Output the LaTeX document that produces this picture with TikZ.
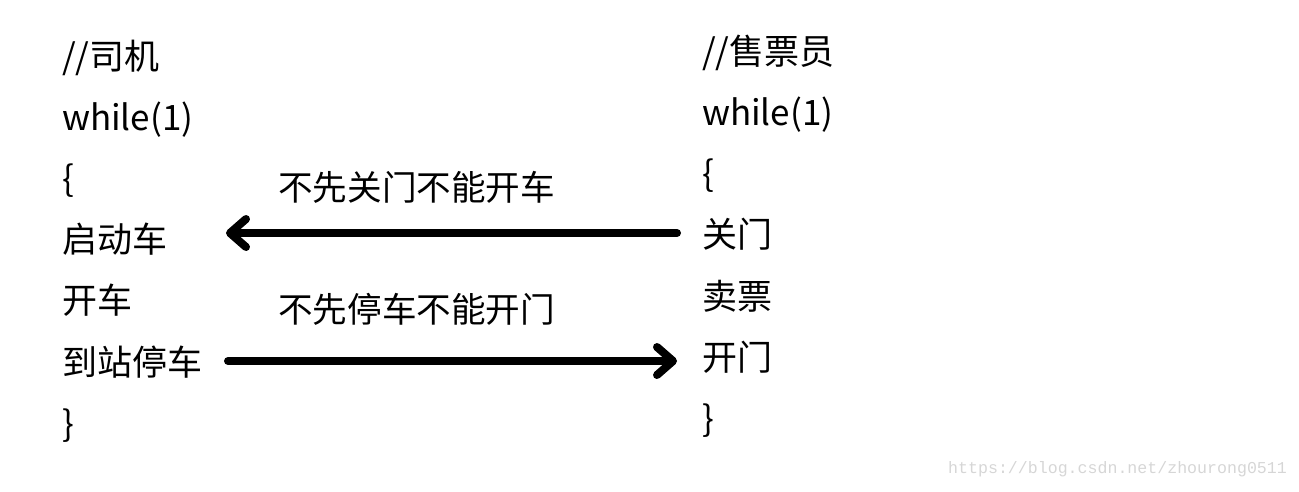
\documentclass[tikz,border=0pt]{standalone}
\usepackage{fontspec}
\setmainfont{Noto Sans CJK SC}
\newfontfamily\wmfont{Liberation Mono}
\usetikzlibrary{arrows.meta}
\begin{document}
\begin{tikzpicture}[x=1pt,y=-1pt,
  code/.style={anchor=base west,inner sep=0pt,outer sep=0pt,font=\fontsize{35pt}{35pt}\selectfont},
  lbl/.style={anchor=base west,inner sep=0pt,font=\fontsize{34.6pt}{35pt}\selectfont},
  bigarrow/.style={line width=8pt,line cap=round,-{Straight Barb[length=16pt,width=28pt,round]}},
  wm/.style={anchor=base west,inner sep=0pt,text=black!16,font=\wmfont\fontsize{16.6pt}{17pt}\selectfont}]
\useasboundingbox (0,0) rectangle (1299,491);
% driver
\node[code] (l1) at (62,69) {//司机};
\node[code] (l2) at (62,130) {while(1)};
\node[code] (l3) at (62,191) {\{};
\node[code] (l4) at (62,252) {启动车};
\node[code] (l5) at (62,313) {开车};
\node[code] (l6) at (62,375) {到站停车};
\node[code] (l7) at (62,436) {\}};
% conductor
\node[code] (r1) at (702,64) {//售票员};
\node[code] (r2) at (702,125) {while(1)};
\node[code] (r3) at (702,186) {\{};
\node[code] (r4) at (702,247) {关门};
\node[code] (r5) at (702,309) {卖票};
\node[code] (r6) at (702,370) {开门};
\node[code] (r7) at (702,431) {\}};
% labels
\node[lbl] (t1) at (278,200) {不先关门不能开车};
\node[lbl] (t2) at (278,322) {不先停车不能开门};
% arrows
\coordinate (a1s) at (677,233);
\coordinate (a1e) at (226,233);
\coordinate (a2s) at (228,361);
\coordinate (a2e) at (677,361);
\draw[bigarrow] (a1s) -- (a1e);
\draw[bigarrow] (a2s) -- (a2e);
% watermark
\node[wm] (w) at (948,473) {https://blog.csdn.net/zhourong0511};
\end{tikzpicture}
\end{document}
